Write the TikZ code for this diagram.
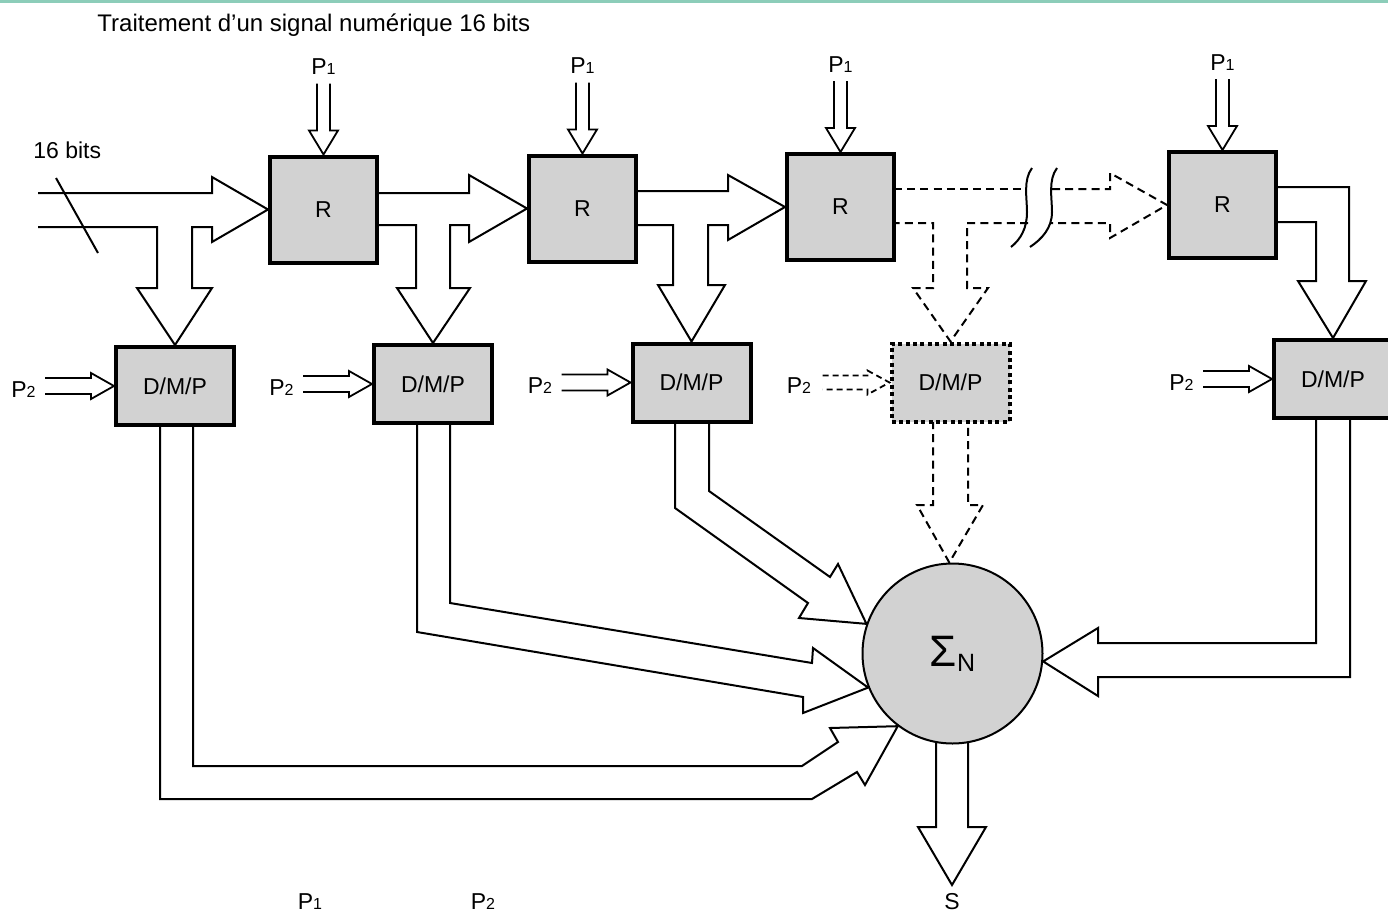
\documentclass[tikz,border=0pt]{standalone}
\usepackage{fontspec}
\setmainfont{Liberation Sans}
\usetikzlibrary{calc,backgrounds}
\definecolor{boxgray}{RGB}{210,210,210}
\definecolor{scanline}{RGB}{140,205,185}
\newcommand\psub[1]{{\fontsize{8}{8}\selectfont #1}}
\begin{document}
\begin{tikzpicture}[x=0.5pt,y=-0.5pt,
  fat/.style={draw=black, line width=1pt, line join=miter},
  dfat/.style={fat, dash pattern=on 4pt off 2.6pt},
  thinarr/.style={draw=black, line width=0.9pt, line join=miter},
  dthinarr/.style={thinarr, dash pattern=on 3pt off 2pt},
  rbox/.style={draw=black, line width=2pt, fill=boxgray, minimum width=53.5pt, minimum height=53pt, inner sep=0pt, font=\fontsize{11.5}{13}\selectfont},
  dbox/.style={draw=black, line width=2pt, fill=boxgray, minimum width=59pt, minimum height=39pt, inner sep=0pt, font=\fontsize{11.5}{13}\selectfont},
  dotbox/.style={dbox, dash pattern=on 2pt off 1.7pt},
  lbl/.style={inner sep=0pt, font=\fontsize{11.5}{13}\selectfont},
  circ/.style={draw=black, line width=1pt, fill=boxgray, circle, minimum size=90pt, inner sep=0pt}
]
\clip (0,0) rectangle (1388,911);

% blocks
\node[rbox] (R1) at (323.5,209.5) {R};
\node[rbox] (R2) at (582.5,208.5) {R};
\node[rbox] (R3) at (840.5,207) {R};
\node[rbox] (R4) at (1222.5,205) {R};
\node[dbox] (D1) at (175,386) {D/M/P};
\node[dbox] (D2) at (433,384) {D/M/P};
\node[dbox] (D3) at (691.5,382.5) {D/M/P};
\node[dotbox] (D4) at (950.5,382.5) {D/M/P};
\node[dbox] (D5) at (1333,379) {D/M/P};
\node[circ] (S) at (952.5,653.5) {{\fontsize{22}{22}\selectfont Σ}\raisebox{-2.5pt}{\fontsize{12.5}{12.5}\selectfont N}};

% texts
\node[lbl, anchor=base west, font=\fontsize{12}{14}\selectfont] (title) at (97,31) {Traitement d’un signal numérique 16 bits};
\node[lbl, anchor=base west] (bits) at (33,158) {16 bits};
\foreach \rn in {R1,R2,R3,R4} {
  \node[lbl, anchor=base] (lab\rn) at ($(\rn.north)+(0,-80)$) {P\psub{1}};
}
\foreach \dn in {D1,D2,D3,D4,D5} {
  \node[lbl, anchor=base east] (lab\dn) at ($(\dn.west)+(-78,11)$) {P\psub{2}};
}
\node[lbl, anchor=base] (bp1) at (310,909) {P\psub{1}};
\node[lbl, anchor=base] (bp2) at (483,909) {P\psub{2}};
\node[lbl, anchor=base] (sout) at (952,909) {S};
\coordinate (Stip) at (952,885);

\begin{scope}[on background layer]
\fill[white] (0,0) rectangle (1388,911);
\fill[scanline] (0,0) rectangle (1388,3);

% P1 inputs
\foreach \rn in {R1,R2,R3,R4} {
  \draw[thinarr] ($(\rn.north)+(-6.5,-71)$) -- ($(\rn.north)+(-6.5,-24)$) -- ($(\rn.north)+(-14.5,-24)$) -- (\rn.north) -- ($(\rn.north)+(14.5,-24)$) -- ($(\rn.north)+(6.5,-24)$) -- ($(\rn.north)+(6.5,-71)$);
}
% P2 inputs
\foreach \dn in {D1,D2,D3,D5} {
  \draw[thinarr] ($(\dn.west)+(-69,-8)$) -- ($(\dn.west)+(-23,-8)$) -- ($(\dn.west)+(-23,-13)$) -- (\dn.west) -- ($(\dn.west)+(-23,13)$) -- ($(\dn.west)+(-23,8)$) -- ($(\dn.west)+(-69,8)$);
}
\draw[dthinarr] ($(D4.west)+(-67,-7)$) -- ($(D4.west)+(-22,-7)$) -- ($(D4.west)+(-22,-12)$) -- (D4.west) -- ($(D4.west)+(-22,12)$) -- ($(D4.west)+(-22,7)$) -- ($(D4.west)+(-67,7)$);

% 16-bit input to R1 and D1
\draw[fat] (38,193) -- (212,193) -- (212,177) -- (R1.west) -- (212,242) -- (212,227) -- (192,227) -- (192,288) -- (212,288) -- (D1.north) -- (137,288) -- (157,288) -- (157,227) -- (38,227);
\draw[fat] (56,178) -- (98,253);

% R1 -> R2, D2
\draw[fat] (377,193) -- (469,193) -- (469,175) -- (R2.west) -- (469,242) -- (469,225) -- (450,225) -- (450,288) -- (470,288) -- (D2.north) -- (397,288) -- (416,288) -- (416,225) -- (377,225);
% R2 -> R3, D3
\draw[fat] (636,191) -- (728,191) -- (728,175) -- (R3.west) -- (728,240) -- (728,225) -- (708,225) -- (708,285) -- (725,285) -- (D3.north) -- (658,285) -- (673,285) -- (673,225) -- (636,225);
% R3 -> R4 (dashed, interrupted), D4
\draw[dfat] (894,189) -- (1027,189);
\draw[dfat] (1052,189) -- (1110,189) -- (1110,173) -- (R4.west) -- (1110,238) -- (1110,223) -- (1050,223);
\draw[dfat] (1028,223) -- (967,223) -- (967,288) -- (988,288) -- (D4.north) -- (913,288) -- (933,288) -- (933,223) -- (894,223);
\draw[fat] (1032,168) .. controls (1023,180) and (1027,198) .. (1027,212) .. controls (1027,228) and (1021,239) .. (1011,247);
\draw[fat] (1057,168) .. controls (1048,180) and (1052,198) .. (1052,212) .. controls (1052,228) and (1042,239) .. (1030,247);
% R4 -> D5
\draw[fat] (1276,187) -- (1349,187) -- (1349,281) -- (1366,281) -- (D5.north) -- (1298,281) -- (1316,281) -- (1316,222) -- (1276,222);

% D outputs to summation
\draw[fat] (160,425) -- (160,799) -- (812,799) -- (857,772) -- (865,785) -- (S.233) -- (830,728) -- (838,742) -- (802,766) -- (193,766) -- (193,425);
\draw[fat] (417,423) -- (417,632) -- (803,697) -- (803,713) -- (S.202) -- (813,648) -- (812,663) -- (450,603) -- (450,423);
\draw[fat] (675,421) -- (675,508) -- (808,603) -- (799,618) -- (S.161) -- (838,564) -- (830,577) -- (709,491) -- (709,421);
\draw[dfat] (933,421) -- (933,505) -- (917,505) -- (S.92) -- (983,505) -- (968,505) -- (968,421);
\draw[fat] (1316,418) -- (1316,643) -- (1098,643) -- (1098,628) -- (S.-5) -- (1098,696) -- (1098,677) -- (1350,677) -- (1350,418);
% output
\draw[fat] (936,742) -- (936,827) -- (918,827) -- (Stip) -- (986,827) -- (968,827) -- (968,742);
\end{scope}
\end{tikzpicture}
\end{document}
